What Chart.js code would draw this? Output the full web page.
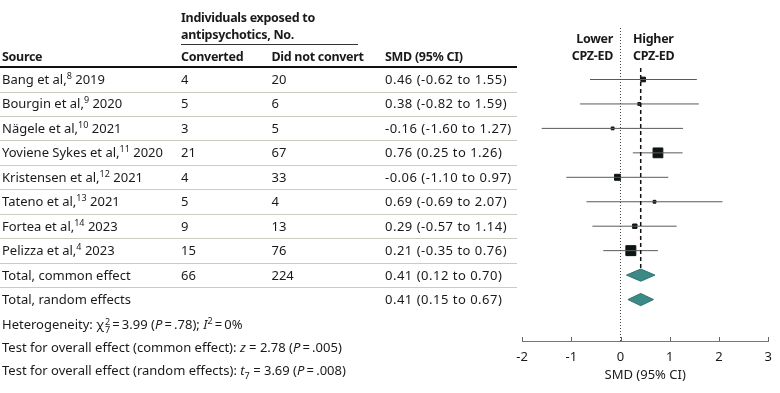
<!DOCTYPE html>
<html>
<head>
<meta charset="utf-8">
<title>Forest plot: SMD in CPZ-ED</title>
<script src="https://cdn.jsdelivr.net/npm/chart.js@4.4.1/dist/chart.umd.min.js"></script>
<style>
  body { margin: 0; background: #fff; }
  #wrap { position: relative; width: 780px; height: 393px; overflow: hidden;
          font-family: "Noto Sans", sans-serif; font-size: 13px; color: #1a1a1a; }
  #chart { position: absolute; left: 0; top: 0; }
  .t { position: absolute; white-space: nowrap; line-height: 16px; }
  .b { font-weight: bold; font-size: 12.5px; letter-spacing: -0.3px; }
  .num { letter-spacing: 0.5px; }
  sup { font-size: 9px; line-height: 0; vertical-align: 5px; }
  .ss { display: inline-block; font-size: 9px; line-height: 8px; vertical-align: -4px; margin-left: 1px; }
  i { font-style: italic; }
</style>
</head>
<body>
<div id="wrap">
  <canvas id="chart" width="780" height="393"></canvas>
</div>
<script>
// study rows
const sources = ["Bang et al,", "Bourgin et al,", "Nägele et al,", "Yoviene Sykes et al,",
  "Kristensen et al,", "Tateno et al,", "Fortea et al,", "Pelizza et al,"];
const refs = [8, 9, 10, 11, 12, 13, 14, 4];
const years = [2019, 2020, 2021, 2020, 2021, 2021, 2023, 2023];
const converted = [4, 5, 3, 21, 4, 5, 9, 15];
const notConverted = [20, 6, 5, 67, 33, 4, 13, 76];
const smd = [0.46, 0.38, -0.16, 0.76, -0.06, 0.69, 0.29, 0.21];
const ciLow = [-0.62, -0.82, -1.60, 0.25, -1.10, -0.69, -0.57, -0.35];
const ciHigh = [1.55, 1.59, 1.27, 1.26, 0.97, 2.07, 1.14, 0.76];

// pooled rows
const totalLabels = ["Total, common effect", "Total, random effects"];
const totalConverted = [66, null];
const totalNotConverted = [224, null];
const totalSmd = [0.41, 0.41];
const totalLow = [0.12, 0.15];
const totalHigh = [0.70, 0.67];

const xTicks = [-2, -1, 0, 1, 2, 3];

// row geometry (pixels)
const ROW0 = 79.5, ROWH = 24.45;
const rowY = i => ROW0 + ROWH * i;
const yMin = (28 - ROW0) / ROWH;
const yMax = (341 - ROW0) / ROWH;

const wrap = document.getElementById("wrap");
function txt(html, x, y, cls, right) {
  const d = document.createElement("div");
  d.className = "t " + (cls || "");
  d.innerHTML = html;
  d.style.top = (y - 8.5) + "px";
  if (right) d.style.right = (780 - x) + "px"; else d.style.left = x + "px";
  wrap.appendChild(d);
}
function hline(y, x0, x1, h, color) {
  const d = document.createElement("div");
  d.style.position = "absolute";
  d.style.top = y + "px";
  d.style.left = x0 + "px";
  d.style.width = (x1 - x0) + "px";
  d.style.height = h + "px";
  d.style.background = color;
  wrap.appendChild(d);
}
const fmt = (v, lo, hi) => `${v.toFixed(2)} (${lo.toFixed(2)} to ${hi.toFixed(2)})`;

// header
txt("Individuals exposed to", 181, 18.5, "b");
txt("antipsychotics, No.", 181, 35.5, "b");
hline(44, 181, 358, 1, "#333");
txt("Source", 2, 57, "b");
txt("Converted", 181, 57, "b");
txt("Did not convert", 271.5, 57, "b");
txt("SMD (95% CI)", 385, 57, "b");
hline(66, 0, 517, 2, "#111");
txt("Lower", 613, 39, "b", true);
txt("CPZ-ED", 613, 56.5, "b", true);
txt("Higher", 633, 39, "b");
txt("CPZ-ED", 633, 56.5, "b");

// study rows
sources.forEach((s, i) => {
  const y = rowY(i);
  txt(`${s}<sup>${refs[i]}</sup> ${years[i]}`, 2, y);
  txt(String(converted[i]), 181, y);
  txt(String(notConverted[i]), 271.5, y);
  txt(fmt(smd[i], ciLow[i], ciHigh[i]), 385, y, "num");
  hline(Math.round(y + 12), 0, 517, 1, "#cbcbc0");
});
totalLabels.forEach((s, k) => {
  const i = sources.length + k;
  const y = rowY(i);
  txt(s, 2, y);
  if (totalConverted[k] != null) txt(String(totalConverted[k]), 181, y);
  if (totalNotConverted[k] != null) txt(String(totalNotConverted[k]), 271.5, y);
  txt(fmt(totalSmd[k], totalLow[k], totalHigh[k]), 385, y, "num");
  if (k === 0) hline(Math.round(y + 12), 0, 517, 1, "#cbcbc0");
});

// footnotes
const T = "\u2009";
txt(`Heterogeneity: χ<span class="ss">2<br>7</span>${T}=${T}3.99 (<i>P</i>${T}=${T}.78); <i>I</i><sup>2</sup>${T}=${T}0%`, 2, 324);
txt(`Test for overall effect (common effect): <i>z</i> = 2.78 (<i>P</i>${T}=${T}.005)`, 2, 347);
txt(`Test for overall effect (random effects): <i>t</i><sub style="font-size:9px;line-height:0">7</sub> = 3.69 (<i>P</i>${T}=${T}.008)`, 2, 370);

// datasets for the plot
const datasets = [];
// line of no effect
datasets.push({
  data: [{ x: 0, y: yMin }, { x: 0, y: yMax }],
  borderColor: "#444", borderWidth: 1, borderDash: [1, 2], pointRadius: 0, showLine: true
});
// pooled estimate dashed line
datasets.push({
  data: [{ x: totalSmd[0], y: -0.47 }, { x: totalSmd[0], y: sources.length - 0.25 }],
  borderColor: "#111", borderWidth: 1.5, borderDash: [4, 3], pointRadius: 0, showLine: true
});
// CI whiskers
smd.forEach((v, i) => {
  datasets.push({
    data: [{ x: ciLow[i], y: i }, { x: ciHigh[i], y: i }],
    borderColor: "#5a5a5a", borderWidth: 1, pointRadius: 0, showLine: true
  });
});
// study markers, size by sample
const n = converted.map((c, i) => c + notConverted[i]);
datasets.push({
  data: smd.map((v, i) => ({ x: v, y: i })),
  pointStyle: "rect",
  pointRadius: n.map(k => Math.max(2, (1.15 * Math.sqrt(k) - 1) / Math.SQRT2)),
  backgroundColor: "#0d1414", borderColor: "#0d1414", borderWidth: 1, showLine: false
});
// pooled diamonds
totalSmd.forEach((v, k) => {
  const i = sources.length + k;
  datasets.push({
    data: [{ x: totalLow[k], y: i }, { x: v, y: i - 0.25 }, { x: totalHigh[k], y: i },
           { x: v, y: i + 0.25 }, { x: totalLow[k], y: i }],
    showLine: true, fill: "shape", tension: 0,
    backgroundColor: "#3b8a86", borderColor: "#2e7471", borderWidth: 1, pointRadius: 0
  });
});

// axis ticks pointing up into the plot
const upTicks = {
  id: "upTicks",
  afterDraw(chart) {
    const { ctx, scales: { x }, chartArea } = chart;
    ctx.save();
    ctx.strokeStyle = "#666";
    ctx.lineWidth = 1;
    xTicks.forEach(t => {
      const px = Math.round(x.getPixelForValue(t)) + 0.5;
      ctx.beginPath();
      ctx.moveTo(px, chartArea.bottom);
      ctx.lineTo(px, chartArea.bottom - 4);
      ctx.stroke();
    });
    ctx.restore();
  }
};

Chart.defaults.font.family = "'Noto Sans', sans-serif";
Chart.defaults.font.size = 13;
Chart.defaults.color = "#1a1a1a";

new Chart(document.getElementById("chart"), {
  type: "scatter",
  data: { datasets },
  options: {
    responsive: false,
    animation: false,
    layout: { padding: { left: 522, right: 7, top: 28, bottom: 0 } },
    plugins: { legend: { display: false }, tooltip: { enabled: false } },
    scales: {
      x: {
        type: "linear", min: -2, max: 3,
        afterBuildTicks: s => { s.ticks = xTicks.map(v => ({ value: v })); },
        afterFit: s => { s.height = 52; },
        grid: { display: true, drawOnChartArea: false, drawTicks: false },
        border: { display: true, color: "#777", width: 1 },
        ticks: { padding: 8, maxRotation: 0 },
        title: { display: true, text: "SMD (95% CI)", padding: { top: 0, bottom: 10 } }
      },
      y: { type: "linear", display: false, reverse: true, min: yMin, max: yMax }
    }
  },
  plugins: [upTicks]
});
</script>
</body>
</html>
